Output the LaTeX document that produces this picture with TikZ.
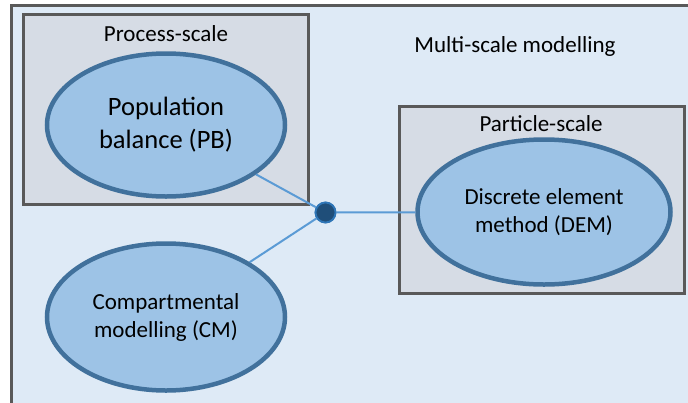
\documentclass[tikz,border=0pt]{standalone}
\usepackage{fontspec}
\setmainfont{Carlito}
\usetikzlibrary{shapes.geometric}
\definecolor{bgblue}{HTML}{DEEAF6}
\definecolor{boxgray}{HTML}{D6DCE5}
\definecolor{framegray}{HTML}{595959}
\definecolor{ellfill}{HTML}{9DC3E6}
\definecolor{ellborder}{HTML}{41719C}
\definecolor{linkblue}{HTML}{5B9BD5}
\definecolor{dotfill}{HTML}{1F4E79}
\definecolor{dotborder}{HTML}{2E75B6}
\tikzset{
  scalebox/.style={draw=framegray, line width=3pt, fill=boxgray},
  method/.style={ellipse, draw=ellborder, line width=4.5pt, fill=ellfill, inner sep=0pt, align=center, text=black},
  link/.style={draw=linkblue, line width=2pt},
  lbl/.style={text=black, inner sep=0pt},
  hubdot/.style={circle, draw=dotborder, line width=1.8pt, fill=dotfill, minimum size=20pt, inner sep=0pt}
}
\begin{document}
\begin{tikzpicture}[x=1pt,y=-1pt]
\useasboundingbox (0,0) rectangle (688,402);
\fill[white] (0,0) rectangle (688,402);
\draw[draw=framegray, line width=3pt, fill=bgblue] (11,5) rectangle (700,420);
\draw[scalebox] (23,14) rectangle (308,204);
\draw[scalebox] (399,106) rectangle (684,293);
\node[lbl, font=\fontsize{23}{27}\selectfont] (ms) at (515,46) {Multi-scale modelling};
\node[lbl, font=\fontsize{23}{27}\selectfont] (ps) at (166,34) {Process-scale};
\node[lbl, font=\fontsize{23}{27}\selectfont] (pas) at (541,124) {Particle-scale};
\node[method, minimum width=238pt, minimum height=143pt, font=\fontsize{26.5}{33}\selectfont] (pb) at (166,125) {Population\\balance (PB)};
\node[method, minimum width=253pt, minimum height=145pt, font=\fontsize{23}{28}\selectfont] (dem) at (544,212) {Discrete element\\method (DEM)};
\node[method, minimum width=238pt, minimum height=147pt, font=\fontsize{23}{28}\selectfont] (cm) at (166,317) {Compartmental\\modelling (CM)};
\node[hubdot] (hub) at (325.5,212.5) {};
\draw[link] (pb) -- (hub);
\draw[link] (cm) -- (hub);
\draw[link] (hub) -- (dem);
\node[hubdot] at (hub) {};
\end{tikzpicture}
\end{document}
